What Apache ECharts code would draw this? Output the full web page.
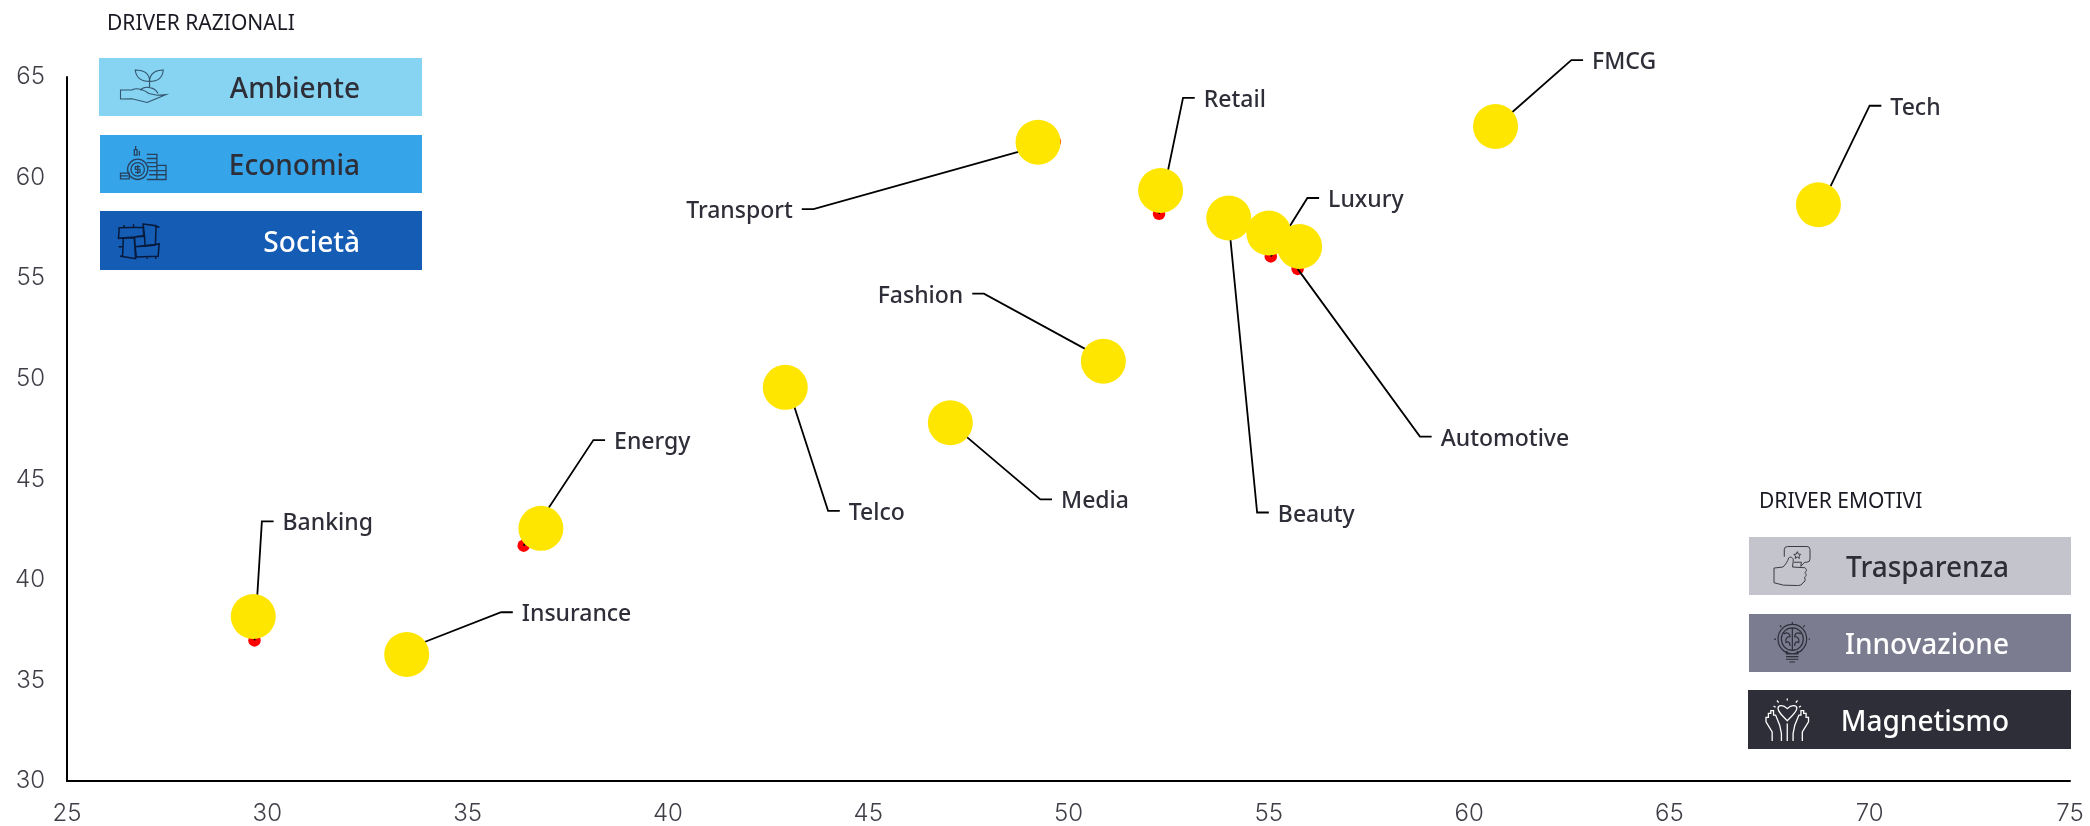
<!DOCTYPE html>
<html lang="it">
<head>
<meta charset="utf-8">
<title>Driver razionali e driver emotivi per settore</title>
<script src="https://cdn.jsdelivr.net/npm/echarts@6/dist/echarts.min.js"></script>
<style>
  html, body { margin: 0; padding: 0; background: #fff; }
  #chart { width: 2090px; height: 826px; }
</style>
</head>
<body>
<div id="chart"></div>
<script>
// Sector scores
const sectors = ['Banking', 'Insurance', 'Energy', 'Telco', 'Media', 'Fashion', 'Transport', 'Retail', 'Beauty', 'Luxury', 'Automotive', 'FMCG', 'Tech'];
const previousX = [29.68, 33.59, 36.40, 43.00, 47.09, 50.86, 49.66, 52.26, 53.99, 55.05, 55.72, 60.67, 68.80];
const previousY = [36.99, 36.65, 41.70, 49.56, 47.73, 51.00, 61.79, 58.20, 58.00, 56.08, 55.46, 62.54, 58.65];
const currentX = [29.65, 33.48, 36.83, 42.93, 47.05, 50.87, 49.24, 52.30, 54.00, 55.00, 55.77, 60.66, 68.72];
const currentY = [38.18, 36.29, 42.56, 49.57, 47.81, 50.87, 61.76, 59.36, 57.99, 57.24, 56.57, 62.54, 58.65];

// Axis ranges
const xRange = [25, 75];
const yRange = [30, 65];
const tickStep = 5;

// Driver names
const rationalTitle = 'DRIVER RAZIONALI';
const rationalDrivers = ['Ambiente', 'Economia', 'Società'];
const emotionalTitle = 'DRIVER EMOTIVI';
const emotionalDrivers = ['Trasparenza', 'Innovazione', 'Magnetismo'];

// Callout elbows, in pixels from each sector's point
const elbowOffsets = [[7.4, -119], [90, -35], [69.7, -105.6], [40, 123.3], [88.4, 75], [-119, -65], [-241.4, 67.5], [24, -116], [28.8, 294.7], [36.6, -58.4], [122.3, 167.7], [75.4, -66.4], [48, -99]];

const INK = '#2E2E38';
const LABEL_FONT = '500 23px "Noto Sans", sans-serif';
const DRIVER_FONT = '500 28px "Noto Sans", sans-serif';
const TITLE_FONT = '400 21px "Noto Sans", sans-serif';
const TICK_STYLE = { color: '#3f3f48', fontFamily: 'Inter', fontWeight: 300, fontSize: 24 };

// Driver panels: rectangle, label anchor and fill
const panels = [
  { name: rationalDrivers[0], x: 99, y: 58, w: 323, h: 58, fill: '#87D3F2', ink: INK, right: 360 },
  { name: rationalDrivers[1], x: 100, y: 135, w: 322, h: 58, fill: '#35A4E8', ink: INK, right: 360 },
  { name: rationalDrivers[2], x: 100, y: 211, w: 322, h: 59, fill: '#155CB4', ink: '#FFFFFF', right: 360 },
  { name: emotionalDrivers[0], x: 1749, y: 537, w: 322, h: 58, fill: '#C4C4CD', ink: INK, right: 2009 },
  { name: emotionalDrivers[1], x: 1749, y: 614, w: 322, h: 58, fill: '#7C7C91', ink: '#FFFFFF', right: 2009 },
  { name: emotionalDrivers[2], x: 1748, y: 690, w: 323, h: 59, fill: '#2E2E38', ink: '#FFFFFF', right: 2009 }
];

// Panel pictograms as outline paths fitted into their boxes
const pictograms = [
  { stroke: '#33566f', lineWidth: 1.1, box: [120.5, 70, 45.5, 32.5],
    d: 'M405 212C430 212 447 222 447 245C425 245 408 235 405 212Z M487 212C465 212 447 222 447 245C470 245 485 235 487 212Z M447 245L447 265 M420 270C430 258 460 258 472 280 M362 270L395 270C410 262 430 268 445 280L470 285L495 283L440 306L395 295L362 296Z' },
  { stroke: '#27415f', lineWidth: 1.3, box: [120.5, 146, 45.5, 33.5],
    d: 'M383 507A30 30 0 1 0 443 507A30 30 0 1 0 383 507Z M393 507A20 20 0 1 0 433 507A20 20 0 1 0 393 507Z M421 499L406 499L406 507L420 507L420 516L405 516 M413 494L413 521 M440 463L470 463L470 537L440 537 M440 475L470 475 M440 487L470 487 M443 499L470 499 M447 511L497 511 M447 523L497 523 M470 495L497 495L497 537L440 537 M362 518L388 518L388 535L362 535Z M362 526L385 526 M403 465L403 449L411 449L411 465Z M418 467L418 452 M407 449L407 438' },
  { stroke: '#071a3c', lineWidth: 1.5, box: [118.5, 224, 41, 35],
    d: 'M358 686L428 684L430 708L402 712L356 716Z M428 675L466 680L464 735L434 738L432 708Z M403 712L432 710L434 738L405 740Z M370 716L402 714L406 774L368 768Z M405 740L475 732L472 767L408 769Z M372 686L372 678 M400 684L400 676 M460 680L476 684 M356 740L368 740 M440 769L440 775 M465 768L465 775 M360 768L368 766' },
  { stroke: '#3b3b46', lineWidth: 1, box: [1774, 546.5, 36, 39],
    d: 'M262 232L318 232Q327 232 327 241L327 268Q327 278 318 278L312 278L300 290L302 278L280 278 M252 262L252 241Q252 232 262 232 M290 247L293 254L300 255L295 260L296 267L290 263L284 267L285 260L280 255L287 254Z M222 295L248 292C256 285 262 275 265 265C272 260 280 266 278 275L276 292L312 294C320 300 316 306 312 308C318 314 316 320 311 322C315 330 312 336 306 338C304 345 296 346 290 346L250 345L222 338Z' },
  { stroke: '#2E2E38', lineWidth: 1.2, box: [1774, 622, 36, 40],
    d: 'M234 505A43 43 0 1 0 320 505A43 43 0 1 0 234 505Z M244 505A33 33 0 1 0 310 505A33 33 0 1 0 244 505Z M277 472L277 538 M252 490C262 482 270 490 270 498C260 498 255 505 258 515C265 510 270 515 270 525 M302 490C292 482 284 490 284 498C294 498 299 505 296 515C289 510 284 515 284 525 M258 548L295 548 M258 556L295 556 M258 564L295 564 M268 572L285 572 M262 540L258 548 M292 540L295 548 M277 455L277 460 M240 465L244 470 M314 465L310 470 M222 505L228 505 M326 505L330 505' },
  { stroke: '#FFFFFF', lineWidth: 1.3, box: [1766, 698.5, 42.5, 42.5],
    d: 'M262 752C245 735 235 725 235 715C235 705 250 703 262 716C274 703 290 705 290 715C290 725 279 735 262 752Z M262 686L262 692 M232 692L237 698 M292 692L287 698 M222 708L228 712 M302 708L296 712 M218 812L218 785L200 755L200 742L207 742L207 730L214 730L214 722L222 722L222 735L228 735L240 765L245 790L245 812 M306 812L306 785L324 755L324 742L317 742L317 730L310 730L310 722L302 722L302 735L296 735L284 765L279 790L279 812 M262 760L262 812' }
];

const panelGraphics = [];
panels.forEach(p => {
  panelGraphics.push({ type: 'rect', shape: { x: p.x, y: p.y, width: p.w, height: p.h }, style: { fill: p.fill }, silent: true });
  panelGraphics.push({ type: 'text', silent: true, style: { text: p.name, x: p.right, y: p.y + p.h / 2 + 3.5, align: 'right', verticalAlign: 'middle', font: DRIVER_FONT, fill: p.ink } });
});
panelGraphics.push({ type: 'text', silent: true, style: { text: rationalTitle, x: 107, y: 24, verticalAlign: 'middle', font: TITLE_FONT, fill: '#1a1a24' } });
panelGraphics.push({ type: 'text', silent: true, style: { text: emotionalTitle, x: 1759, y: 502, verticalAlign: 'middle', font: TITLE_FONT, fill: '#1a1a24' } });

const STUB = 11.7;
const LABEL_GAP = 9;
const LABEL_DROP = 2.5;

// Callout: slanted leader, short horizontal stub, sector name
function renderCallout(params, api) {
  const i = params.dataIndex;
  const origin = api.coord([api.value(0), api.value(1)]);
  const off = elbowOffsets[i];
  const ex = origin[0] + off[0];
  const ey = origin[1] + off[1];
  const dir = off[0] < 0 ? -1 : 1;
  return {
    type: 'group',
    children: [
      {
        type: 'polyline',
        shape: { points: [origin, [ex, ey], [ex + dir * STUB, ey]] },
        style: { stroke: '#000', lineWidth: 1.8, fill: 'none' }
      },
      {
        type: 'text',
        style: {
          text: sectors[i],
          x: ex + dir * (STUB + LABEL_GAP),
          y: ey + LABEL_DROP,
          align: dir < 0 ? 'right' : 'left',
          verticalAlign: 'middle',
          font: LABEL_FONT,
          fill: INK
        }
      }
    ]
  };
}

// One pictogram per data row, placed on top of its panel
function renderPictogram(params) {
  const ic = pictograms[params.dataIndex];
  return {
    type: 'path',
    shape: { pathData: ic.d, layout: 'cover', x: ic.box[0], y: ic.box[1], width: ic.box[2], height: ic.box[3] },
    style: { fill: 'none', stroke: ic.stroke, lineWidth: ic.lineWidth }
  };
}

const axisLine = { onZero: false, lineStyle: { color: '#000', width: 2 } };

const chart = echarts.init(document.getElementById('chart'), null, { renderer: 'canvas' });
chart.setOption({
  animation: false,
  backgroundColor: '#fff',
  grid: { left: 67, right: 20, top: 77, bottom: 44 },
  xAxis: {
    type: 'value', min: xRange[0], max: xRange[1], interval: tickStep,
    axisLine, axisTick: { show: false }, splitLine: { show: false },
    axisLabel: Object.assign({ margin: 21, showMinLabel: true, showMaxLabel: true }, TICK_STYLE)
  },
  yAxis: {
    type: 'value', min: yRange[0], max: yRange[1], interval: tickStep,
    axisLine, axisTick: { show: false }, splitLine: { show: false },
    axisLabel: Object.assign({ margin: 22, showMinLabel: true, showMaxLabel: true }, TICK_STYLE)
  },
  series: [
    {
      type: 'scatter', name: 'Precedente', symbolSize: 12.5, z: 2,
      itemStyle: { color: '#FF0000', opacity: 1 },
      data: previousX.map((x, i) => [x, previousY[i]])
    },
    {
      type: 'custom', name: 'Settori', z: 3, renderItem: renderCallout,
      encode: { x: 0, y: 1 },
      data: previousX.map((x, i) => [x, previousY[i]])
    },
    {
      type: 'scatter', name: 'Attuale', symbolSize: 45, z: 4,
      itemStyle: { color: '#FFE600', opacity: 1 },
      data: currentX.map((x, i) => [x, currentY[i]])
    },
    {
      type: 'custom', name: 'Pittogrammi', coordinateSystem: 'none', z: 5, silent: true,
      renderItem: renderPictogram,
      data: pictograms.map((_, i) => i)
    }
  ],
  graphic: panelGraphics
});
</script>
</body>
</html>
